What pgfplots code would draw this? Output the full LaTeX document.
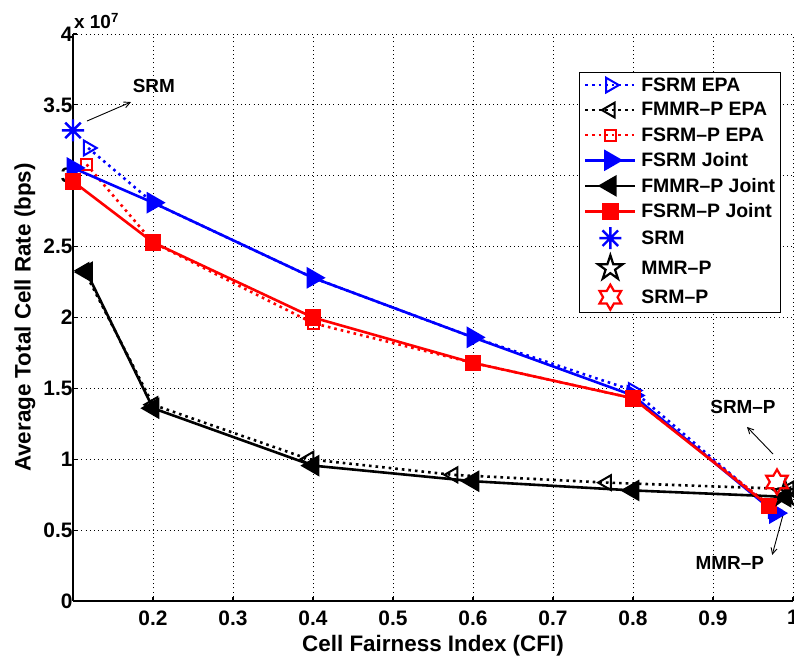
\documentclass[border=0pt]{standalone}
\usepackage{fontspec}
\setmainfont{Liberation Sans}
\usepackage{pgfplots}
\pgfplotsset{compat=1.18}
\usetikzlibrary{arrows.meta}

\pgfdeclareplotmark{hexagram}{%
  \pgfpathmoveto{\pgfpointpolar{90}{\pgfplotmarksize}}%
  \pgfpathlineto{\pgfpointpolar{120}{0.577\pgfplotmarksize}}%
  \pgfpathlineto{\pgfpointpolar{150}{\pgfplotmarksize}}%
  \pgfpathlineto{\pgfpointpolar{180}{0.577\pgfplotmarksize}}%
  \pgfpathlineto{\pgfpointpolar{210}{\pgfplotmarksize}}%
  \pgfpathlineto{\pgfpointpolar{240}{0.577\pgfplotmarksize}}%
  \pgfpathlineto{\pgfpointpolar{270}{\pgfplotmarksize}}%
  \pgfpathlineto{\pgfpointpolar{300}{0.577\pgfplotmarksize}}%
  \pgfpathlineto{\pgfpointpolar{330}{\pgfplotmarksize}}%
  \pgfpathlineto{\pgfpointpolar{0}{0.577\pgfplotmarksize}}%
  \pgfpathlineto{\pgfpointpolar{30}{\pgfplotmarksize}}%
  \pgfpathlineto{\pgfpointpolar{60}{0.577\pgfplotmarksize}}%
  \pgfpathclose\pgfusepathqstroke}
\pgfdeclareplotmark{pentagram}{%
  \pgfpathmoveto{\pgfpointpolar{90}{\pgfplotmarksize}}%
  \pgfpathlineto{\pgfpointpolar{126}{0.382\pgfplotmarksize}}%
  \pgfpathlineto{\pgfpointpolar{162}{\pgfplotmarksize}}%
  \pgfpathlineto{\pgfpointpolar{198}{0.382\pgfplotmarksize}}%
  \pgfpathlineto{\pgfpointpolar{234}{\pgfplotmarksize}}%
  \pgfpathlineto{\pgfpointpolar{270}{0.382\pgfplotmarksize}}%
  \pgfpathlineto{\pgfpointpolar{306}{\pgfplotmarksize}}%
  \pgfpathlineto{\pgfpointpolar{342}{0.382\pgfplotmarksize}}%
  \pgfpathlineto{\pgfpointpolar{18}{\pgfplotmarksize}}%
  \pgfpathlineto{\pgfpointpolar{54}{0.382\pgfplotmarksize}}%
  \pgfpathclose\pgfusepathqstroke}
\pgfdeclareplotmark{matlabstar}{%
  \pgfpathmoveto{\pgfpoint{0pt}{\pgfplotmarksize}}\pgfpathlineto{\pgfpoint{0pt}{-\pgfplotmarksize}}%
  \pgfpathmoveto{\pgfpoint{\pgfplotmarksize}{0pt}}\pgfpathlineto{\pgfpoint{-\pgfplotmarksize}{0pt}}%
  \pgfpathmoveto{\pgfpointpolar{45}{\pgfplotmarksize}}\pgfpathlineto{\pgfpointpolar{225}{\pgfplotmarksize}}%
  \pgfpathmoveto{\pgfpointpolar{135}{\pgfplotmarksize}}\pgfpathlineto{\pgfpointpolar{315}{\pgfplotmarksize}}%
  \pgfusepathqstroke}

\newcommand{\labbf}{\bfseries\fontsize{22.5}{26}\selectfont}
\newcommand{\tickbf}{\bfseries\fontsize{21}{25}\selectfont}
\newcommand{\legbf}{\bfseries\fontsize{19.5}{23}\selectfont}
\newcommand{\annbf}{\bfseries\fontsize{19}{22}\selectfont}

\begin{document}
\begin{tikzpicture}
\useasboundingbox (-73bp,-58bp) rectangle (721bp,601bp);
\begin{axis}[
  scale only axis,
  width=720bp, height=567bp,
  xmin=0.1, xmax=1, ymin=0, ymax=4,
  xtick={0.2,0.3,0.4,0.5,0.6,0.7,0.8,0.9,1},
  ytick={0,0.5,1,1.5,2,2.5,3,3.5,4},
  axis x line=bottom, axis y line=left,
  axis line style={-, line width=1.5bp},
  tick align=inside,
  major tick length=4bp,
  tick style={line width=1.2bp, black},
  grid=major,
  major grid style={dash pattern=on 1bp off 3.2bp, line width=0.9bp, black},
  /pgf/number format/assume math mode=true,
  tick label style={font=\tickbf},
  xticklabel style={yshift=-6bp},
  yticklabel style={xshift=3bp},
  xlabel={Cell Fairness Index (CFI)},
  ylabel={Average Total Cell Rate (bps)},
  label style={font=\labbf},
  x label style={at={(axis description cs:0.5,-0.079)}, anchor=center},
  y label style={at={(axis description cs:-0.067,0.5)}, anchor=center},
  clip=false,
  legend cell align=left,
  legend style={font=\legbf, at={(rel axis cs:0.983,0.933)}, anchor=north east,
    draw=black, line width=1.2bp, row sep=6bp, inner sep=3bp},
  legend image code/.code={\path[draw=none, fill=none] (0bp,0bp) -- (57bp,0bp);
    \draw[mark repeat=2,mark phase=2] plot coordinates {(3bp,0bp) (28bp,0bp) (53bp,0bp)};},
  solidline/.style={line width=2.6bp, solid},
  dotline/.style={line width=2.6bp, dash pattern=on 2.6bp off 4bp},
]
% FSRM EPA
\addplot[blue, dotline, mark=triangle, mark size=8.5bp, mark options={solid, rotate=-90, line width=2bp}]
  coordinates {(0.119,3.196) (0.2,2.81) (0.4,2.28) (0.6,1.86) (0.8,1.485) (0.975,0.64)};
\addlegendentry{FSRM EPA}
% FMMR-P EPA
\addplot[black, dotline, mark=triangle, mark size=8.5bp, mark options={solid, rotate=90, line width=2bp}]
  coordinates {(0.114,2.33) (0.2,1.385) (0.395,1.0) (0.575,0.89) (0.767,0.835) (0.995,0.79)};
\addlegendentry{FMMR--P EPA}
% FSRM-P EPA
\addplot[red, dotline, mark=square, mark size=5.5bp, mark options={solid, line width=2bp}]
  coordinates {(0.117,3.08) (0.2,2.53) (0.4,1.96) (0.6,1.68) (0.8,1.43) (0.97,0.68)};
\addlegendentry{FSRM--P EPA}
% FSRM Joint
\addplot[blue, solidline, mark=triangle*, mark size=10bp, mark options={solid, rotate=-90}]
  coordinates {(0.1,3.055) (0.2,2.81) (0.4,2.28) (0.6,1.86) (0.8,1.45) (0.978,0.62)};
\addlegendentry{FSRM Joint}
% FMMR-P Joint
\addplot[black, solidline, mark=triangle*, mark size=10bp, mark options={solid, rotate=90}]
  coordinates {(0.117,2.32) (0.2,1.36) (0.4,0.955) (0.6,0.845) (0.8,0.78) (0.99,0.735)};
\addlegendentry{FMMR--P Joint}
% FSRM-P Joint
\addplot[red, solidline, mark=square*, mark size=7bp, mark options={solid}]
  coordinates {(0.1,2.96) (0.2,2.53) (0.4,2.0) (0.6,1.68) (0.8,1.43) (0.97,0.67)};
\addlegendentry{FSRM--P Joint}
% SRM
\addplot[blue, only marks, mark=matlabstar, mark size=11bp, mark options={line width=2.4bp}]
  coordinates {(0.1,3.32)};
\addlegendentry{SRM}
% MMR-P
\addplot[black, only marks, mark=pentagram, mark size=13bp, mark options={line width=2.2bp}]
  coordinates {(0.99,0.76)};
\addlegendentry{MMR--P}
% SRM-P
\addplot[red, only marks, mark=hexagram, mark size=12.5bp, mark options={line width=2.2bp}]
  coordinates {(0.98,0.84)};
\addlegendentry{SRM--P}

% annotations
\node[font=\annbf, anchor=south west, inner sep=1bp] at (rel axis cs:0,1) [yshift=4bp] {x 10\textsuperscript{7}};
\node[font=\annbf] at (axis cs:0.201,3.63) {SRM};
\draw[-{Straight Barb[length=6bp,width=6bp]}, line width=0.9bp] (axis cs:0.1175,3.386) -- (axis cs:0.1725,3.52);
\node[font=\annbf] at (axis cs:0.9375,1.369) {SRM--P};
\draw[-{Straight Barb[length=6bp,width=6bp]}, line width=0.9bp] (axis cs:0.975,1.037) -- (axis cs:0.9425,1.228);
\node[font=\annbf] at (axis cs:0.921,0.268) {MMR--P};
\draw[-{Straight Barb[length=6bp,width=6bp]}, line width=0.9bp] (axis cs:0.9875,0.607) -- (axis cs:0.974,0.325);
\end{axis}
\end{tikzpicture}
\end{document}
